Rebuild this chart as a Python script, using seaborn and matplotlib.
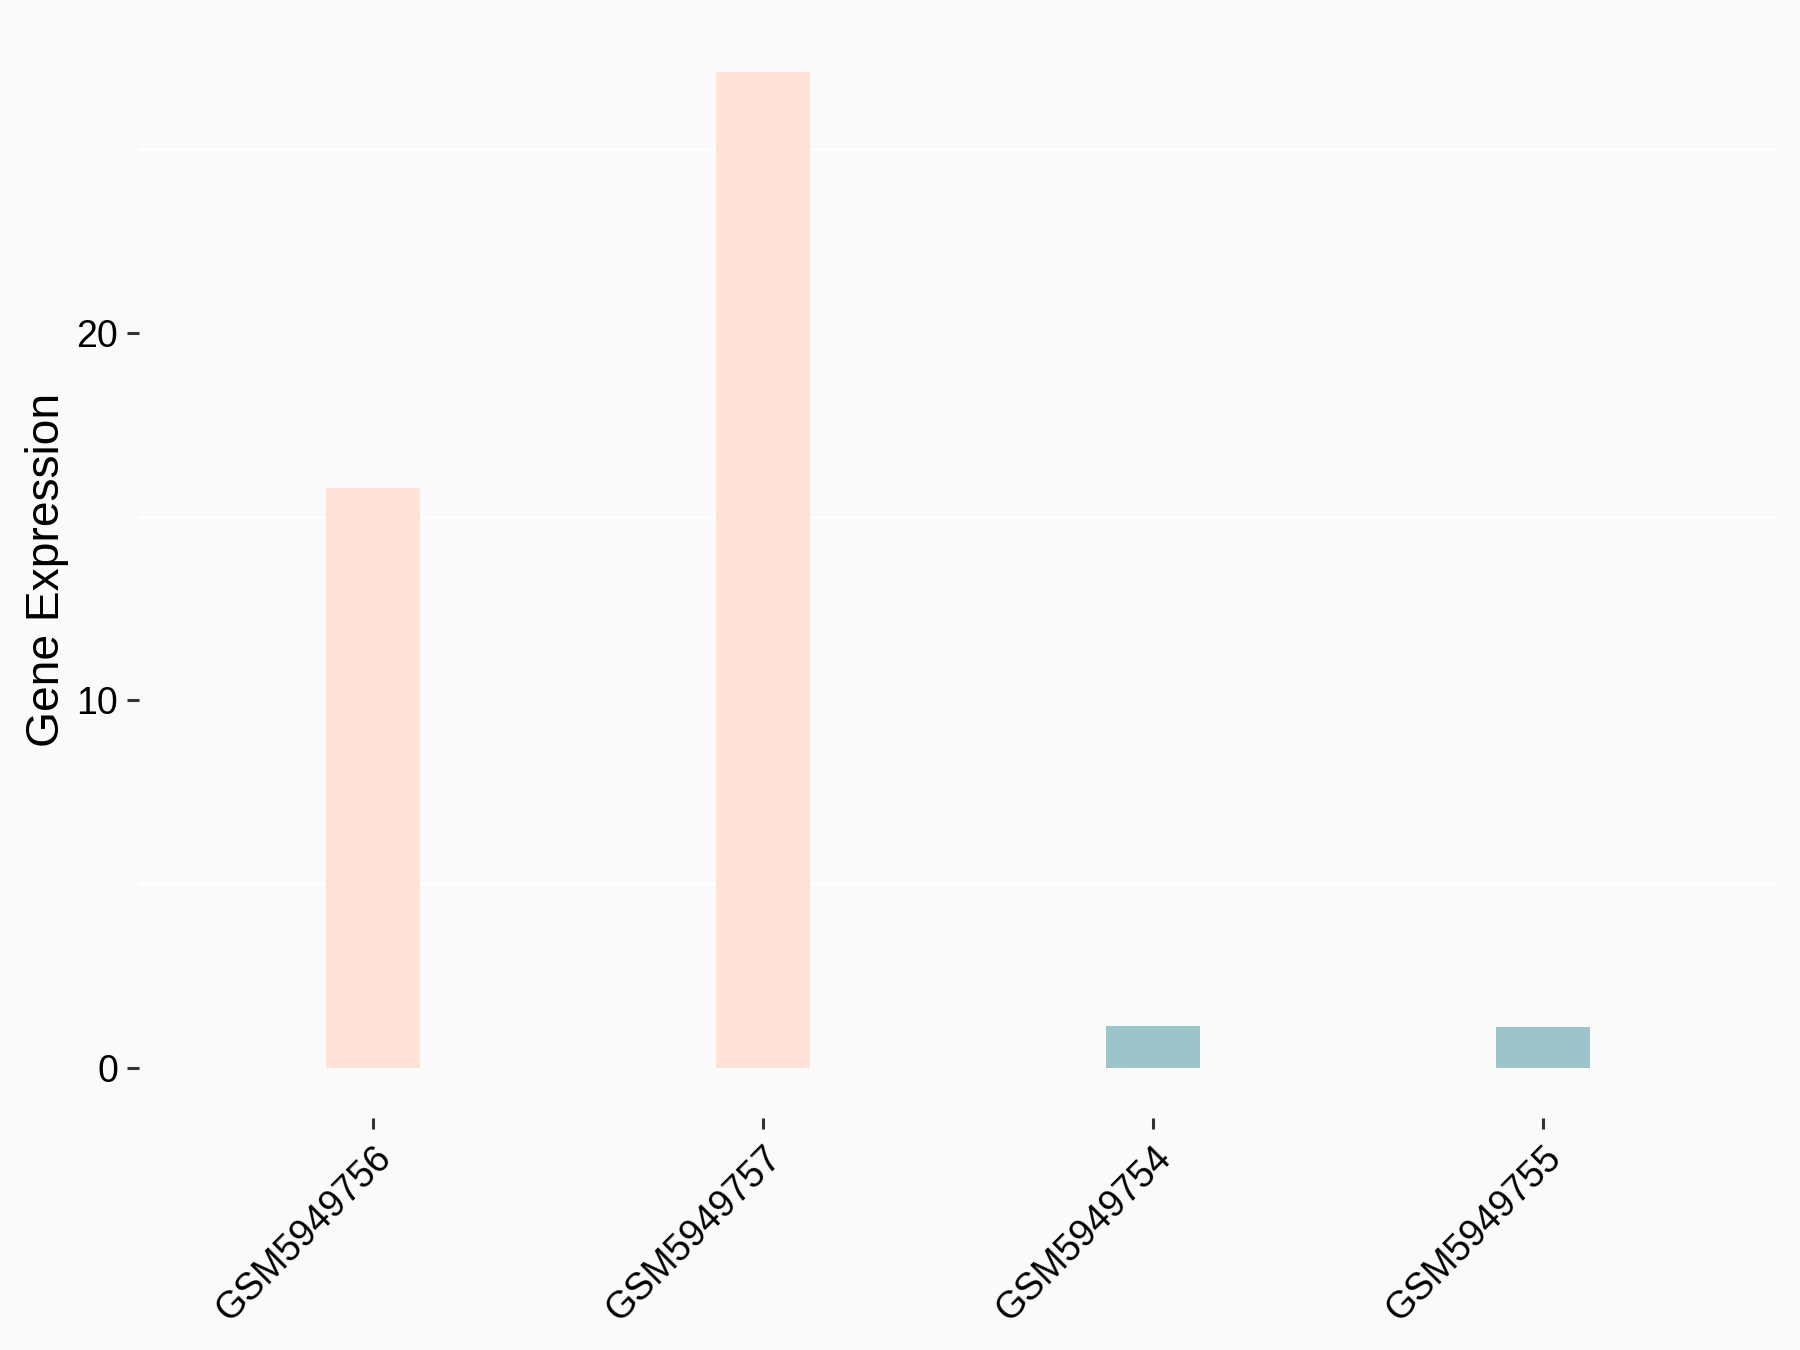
import matplotlib
matplotlib.use("Agg")
import matplotlib.pyplot as plt
from matplotlib.ticker import MultipleLocator
import seaborn as sns
import pandas as pd

# values
samples = ["GSM5949756", "GSM5949757", "GSM5949754", "GSM5949755"]
expression = [15.77, 27.1, 1.13, 1.11]
groups = ["high", "high", "low", "low"]
group_colors = {"high": "#FFE1D7", "low": "#9DC4C8"}

df = pd.DataFrame({"sample": samples, "expr": expression, "group": groups})

sns.set_theme(style="white")
plt.rcParams["font.family"] = ["Liberation Sans", "DejaVu Sans"]

bg = "#FAFAFA"
fig = plt.figure(figsize=(9, 6.75), dpi=200, facecolor=bg)
ax = fig.add_axes([0.0772, 0.172, 0.91, 0.8117])
ax.set_facecolor(bg)

sns.barplot(data=df, x="sample", y="expr", hue="group", palette=group_colors,
            order=samples, width=0.24, dodge=False, legend=False,
            saturation=1, linewidth=0, ax=ax)

ax.set_xlim(-0.6, 3.6)
ax.set_ylim(-1.355, 28.46)

# minor grid only, white
ax.yaxis.set_major_locator(MultipleLocator(10))
ax.yaxis.set_minor_locator(MultipleLocator(5))
ax.grid(False)
for v in [5, 15, 25]:
    ax.axhline(v, color="white", lw=1.0, zorder=0)

for s in ax.spines.values():
    s.set_visible(False)

ax.tick_params(axis="y", which="major", length=4.3, width=1.1, color="#333333",
               pad=3.2, labelsize=13.5, labelcolor="black", left=True)
ax.tick_params(axis="y", which="minor", length=0)
ax.tick_params(axis="x", length=4, width=1.1, color="#333333", pad=4,
               labelsize=13.5, labelcolor="black", bottom=True)

for lab in ax.get_xticklabels():
    lab.set_rotation(45)
    lab.set_ha("right")
    lab.set_va("top")
    lab.set_rotation_mode("anchor")

ax.set_xlabel("")
ax.set_ylabel("Gene Expression", fontsize=16.6, color="black", labelpad=2.5)

fig.savefig("out.png", dpi=200, facecolor=bg)
